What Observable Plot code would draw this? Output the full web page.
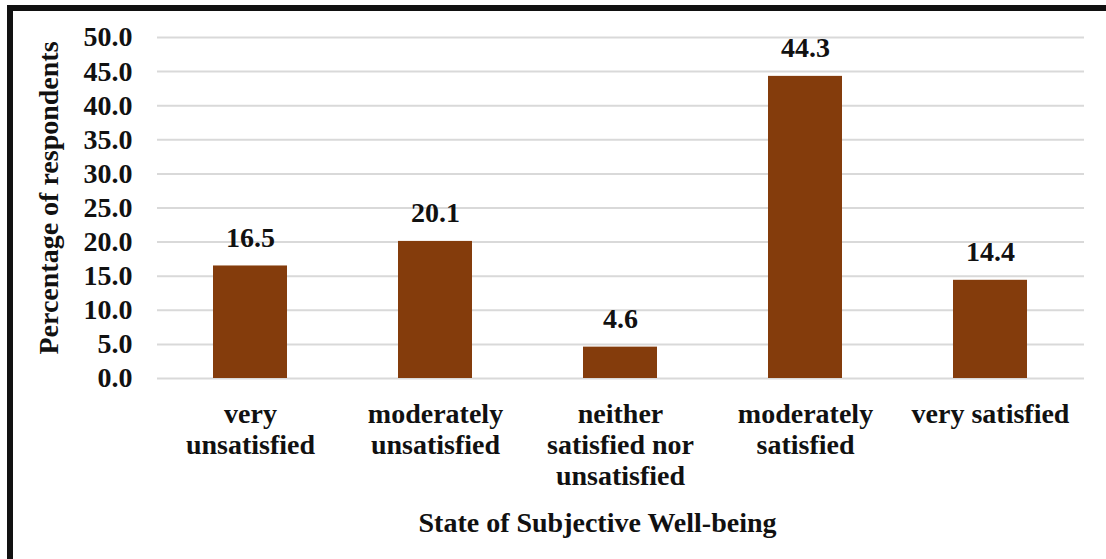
<!DOCTYPE html>
<html>
<head>
<meta charset="utf-8">
<script src="https://cdn.jsdelivr.net/npm/d3@7"></script>
<script src="https://cdn.jsdelivr.net/npm/@observablehq/plot@0.6"></script>
<style>
  html, body { margin: 0; padding: 0; background: white; }
  #wrap { position: relative; width: 1106px; height: 559px; overflow: hidden; background: white; }
  #frame { position: absolute; left: 7px; top: 5px; right: -10px; bottom: -10px; border-top: 6px solid #111; border-left: 6px solid #111; pointer-events: none; }
</style>
</head>
<body>
<div id="wrap"><div id="frame"></div></div>
<script>
const categories = ["very unsatisfied", "moderately unsatisfied", "neither satisfied nor unsatisfied", "moderately satisfied", "very satisfied"];
const tickLabels = ["very\nunsatisfied", "moderately\nunsatisfied", "neither\nsatisfied nor\nunsatisfied", "moderately\nsatisfied", "very satisfied"];
const values = [16.5, 20.1, 4.6, 44.3, 14.4];
const yTicks = [0, 5, 10, 15, 20, 25, 30, 35, 40, 45, 50];
const yTitle = "Percentage of respondents";
const xTitle = "State of Subjective Well-being";

const data = categories.map((c, i) => ({cat: c, value: values[i]}));
const labelMap = new Map(categories.map((c, i) => [c, tickLabels[i]]));
const FONT = "'Liberation Serif', 'Times New Roman', serif";

const chart = Plot.plot({
  width: 1106,
  height: 559,
  marginTop: 37,
  marginBottom: 181,
  marginLeft: 157,
  marginRight: 22,
  style: {fontFamily: FONT, fontSize: "28px", fontWeight: "bold", color: "#111", background: "transparent"},
  x: {domain: categories, paddingInner: 0.6, paddingOuter: 0.3, axis: null},
  y: {domain: [0, 50], axis: null},
  marks: [
    Plot.ruleY(yTicks, {stroke: "#d9d9d9", strokeWidth: 2}),
    Plot.barY(data, {x: "cat", y: "value", fill: "#843C0C"}),
    Plot.text(data, {x: "cat", y: "value", text: d => d.value.toFixed(1), dy: -28, fontSize: 28, fontWeight: "bold", fill: "#111"}),
    Plot.axisY({ticks: yTicks, tickFormat: d => d.toFixed(1), tickSize: 0, tickPadding: 25, fontSize: 28, fontWeight: "bold", label: null, fill: "#111"}),
    Plot.axisX({tickFormat: d => labelMap.get(d), tickSize: 0, tickPadding: 22, lineHeight: 1.12, lineAnchor: "top", fontSize: 28, fontWeight: "bold", label: null, fill: "#111"}),
    Plot.text([yTitle], {text: d => d, frameAnchor: "left", textAnchor: "middle", lineAnchor: "middle", dx: -108, dy: -10, rotate: -90, fontSize: 28, fontWeight: "bold", fill: "#111"}),
    Plot.text([xTitle], {text: d => d, frameAnchor: "bottom", textAnchor: "middle", lineAnchor: "middle", dx: -23.5, dy: 145, fontSize: 28, fontWeight: "bold", fill: "#111"})
  ]
});
chart.style.position = "absolute";
chart.style.left = "0";
chart.style.top = "0";
document.getElementById("wrap").insertBefore(chart, document.getElementById("frame"));
</script>
</body>
</html>
